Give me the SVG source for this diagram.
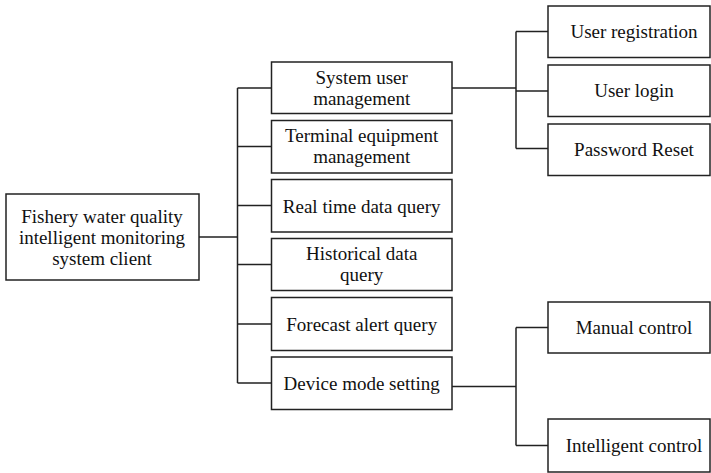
<svg xmlns="http://www.w3.org/2000/svg" width="711" height="473" viewBox="0 0 711 473">
<style>
.box{fill:#fff;stroke:#222;stroke-width:1.5}
.t{font-family:"Liberation Serif","Times New Roman",serif;font-size:19px;fill:#111;text-anchor:middle}
.c{fill:none;stroke:#222;stroke-width:1.5}
</style>
<rect width="711" height="473" fill="#fff"/>
<g id="connectors">
<path class="c" d="M199 237H237.5M237.5 88V383M237.5 88H271.5M237.5 146.5H271.5M237.5 205.5H271.5M237.5 264.5H271.5M237.5 324H271.5M237.5 383H271.5"/>
<path class="c" d="M452 88H516M516 31.5V148.5M516 31.5H548M516 91H548M516 148.5H548"/>
<path class="c" d="M452 386.5H516M516 327.5V445.5M516 327.5H548M516 445.5H548"/>
</g>
<g id="root"><rect class="box" x="6" y="194" width="193" height="86"/>
<text class="t" x="102" y="222.5">Fishery water quality</text>
<text class="t" x="102" y="243.5">intelligent monitoring</text>
<text class="t" x="102" y="264.5">system client</text></g>
<g id="sysuser"><rect class="box" x="271.5" y="62" width="180.5" height="51.5"/>
<text class="t" x="361.7" y="83.5">System user</text>
<text class="t" x="361.7" y="104.5">management</text></g>
<g id="terminal"><rect class="box" x="271.5" y="120.5" width="180.5" height="52.5"/>
<text class="t" x="361.7" y="142">Terminal equipment</text>
<text class="t" x="361.7" y="163">management</text></g>
<g id="realtime"><rect class="box" x="271.5" y="179.5" width="180.5" height="52.5"/>
<text class="t" x="361.7" y="212.5">Real time data query</text></g>
<g id="historical"><rect class="box" x="271.5" y="238.5" width="180.5" height="52"/>
<text class="t" x="361.7" y="260">Historical data</text>
<text class="t" x="361.7" y="281">query</text></g>
<g id="forecast"><rect class="box" x="271.5" y="297.5" width="180.5" height="53"/>
<text class="t" x="361.7" y="330.5">Forecast alert query</text></g>
<g id="device"><rect class="box" x="271.5" y="357" width="180.5" height="52.5"/>
<text class="t" x="361.7" y="389.5">Device mode setting</text></g>
<g id="registration"><rect class="box" x="548" y="6" width="162" height="51.5"/>
<text class="t" x="634" y="38">User registration</text></g>
<g id="login"><rect class="box" x="548" y="65" width="162" height="51.5"/>
<text class="t" x="634" y="97">User login</text></g>
<g id="reset"><rect class="box" x="548" y="124" width="162" height="51.5"/>
<text class="t" x="634" y="155.5">Password Reset</text></g>
<g id="manual"><rect class="box" x="548" y="302" width="162" height="51"/>
<text class="t" x="634" y="334">Manual control</text></g>
<g id="intelligent"><rect class="box" x="548" y="419" width="162" height="53"/>
<text class="t" x="634" y="452">Intelligent control</text></g>
</svg>
